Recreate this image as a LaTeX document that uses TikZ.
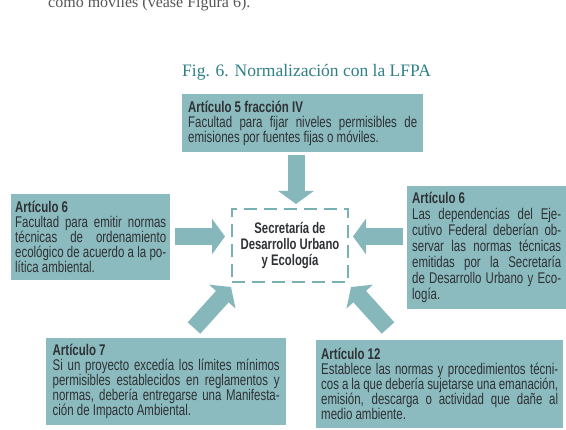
\documentclass[tikz,border=0pt]{standalone}
\usepackage{fontspec}
\setmainfont{Liberation Sans}[FakeStretch=0.74]
\newfontfamily\ttlfont{Liberation Serif}
\usetikzlibrary{arrows.meta}
\definecolor{boxc}{HTML}{8BBBBE}
\definecolor{arrc}{HTML}{86B8BB}
\definecolor{dashc}{HTML}{79B0B3}
\definecolor{txtc}{HTML}{2E3135}
\definecolor{ttlc}{HTML}{2E7F86}
\definecolor{topc}{HTML}{555555}
\newcommand{\jusline}[2]{\makebox[#1][s]{#2}}
\newcommand{\lefline}[2]{\makebox[#1][l]{#2}}
\tikzset{
  infobox/.style={fill=boxc, text=txtc, inner sep=0pt, align=left,
    font=\fontsize{15.5}{15}\selectfont, anchor=north west},
  fatarrow/.style={draw=arrc, line width=17pt,
    -{Triangle[width=35pt 0 0,length=13pt 0 0]}},
  secbox/.style={draw=dashc, line width=1.8pt, dash pattern=on 13pt off 7pt,
    align=center, font=\bfseries\fontsize{15.3}{16}\selectfont, text=txtc,
    minimum width=116pt, minimum height=73pt, inner sep=0pt},
}
\begin{document}
\begin{tikzpicture}[x=1pt,y=-1pt]
\useasboundingbox (0,0) rectangle (566,430);
% running text and title
\node[anchor=base west, inner sep=0pt, text=topc, font=\ttlfont\fontsize{16}{18}\selectfont]
  (runtext) at (48,8) {como móviles (véase Figura 6).};
\node[anchor=base west, inner sep=0pt, text=ttlc, font=\ttlfont\fontsize{17.5}{20}\selectfont]
  (title) at (182,77) {Fig. 6. Normalización con la LFPA};
% boxes
\node[infobox, minimum width=241pt, minimum height=58pt] (art5) at (182,94) {%
  \lefline{229pt}{\textbf{Artículo 5 fracción IV}}\\
  \jusline{229pt}{Facultad para fijar niveles permisibles de}\\
  \lefline{229pt}{emisiones por fuentes fijas o móviles.}};
\node[infobox, minimum width=159pt, minimum height=86pt] (art6l) at (11,194) {%
  \lefline{151pt}{\textbf{Artículo 6}}\\
  \jusline{151pt}{Facultad para emitir normas}\\
  \jusline{151pt}{técnicas de ordenamiento}\\
  \jusline{151pt}{ecológico de acuerdo a la po-}\\
  \lefline{151pt}{lítica ambiental.}};
\node[infobox, font=\fontsize{15.5}{16}\selectfont, minimum width=159pt, minimum height=123pt] (art6r) at (407,186) {%
  \lefline{149pt}{\textbf{Artículo 6}}\\
  \jusline{149pt}{Las dependencias del Eje-}\\
  \jusline{149pt}{cutivo Federal deberían ob-}\\
  \jusline{149pt}{servar las normas técnicas}\\
  \jusline{149pt}{emitidas por la Secretaría}\\
  \jusline{149pt}{de Desarrollo Urbano y Eco-}\\
  \lefline{149pt}{logía.}};
\node[infobox, minimum width=240pt, minimum height=87pt] (art7) at (46,338) {%
  \lefline{227pt}{\textbf{Artículo 7}}\\
  \jusline{227pt}{Si un proyecto excedía los límites mínimos}\\
  \jusline{227pt}{permisibles establecidos en reglamentos y}\\
  \jusline{227pt}{normas, debería entregarse una Manifesta-}\\
  \lefline{227pt}{ción de Impacto Ambiental.}};
\node[infobox, minimum width=247pt, minimum height=88pt] (art12) at (316,340) {%
  \lefline{237pt}{\textbf{Artículo 12}}\\
  \jusline{237pt}{Establece las normas y procedimientos técni-}\\
  \jusline{237pt}{cos a la que debería sujetarse una emanación,}\\
  \jusline{237pt}{emisión, descarga o actividad que dañe al}\\
  \lefline{237pt}{medio ambiente.}};
% centre
\node[secbox] (sec) at (290,245.5) {Secretaría de\\Desarrollo Urbano\\y Ecología};
% arrow ends
\coordinate (a5s) at (296,155);  \coordinate (a5e) at (296,204);
\coordinate (a6ls) at (175,236.5); \coordinate (a6le) at (225,236.5);
\coordinate (a6rs) at (403,236.5); \coordinate (a6re) at (353,236.5);
\coordinate (a7s) at (194,328);  \coordinate (a7e) at (231,287);
\coordinate (a12s) at (388,328); \coordinate (a12e) at (351,287);
\draw[fatarrow] (a5s) -- (a5e);
\draw[fatarrow] (a6ls) -- (a6le);
\draw[fatarrow] (a6rs) -- (a6re);
\draw[fatarrow] (a7s) -- (a7e);
\draw[fatarrow] (a12s) -- (a12e);
\end{tikzpicture}
\end{document}
